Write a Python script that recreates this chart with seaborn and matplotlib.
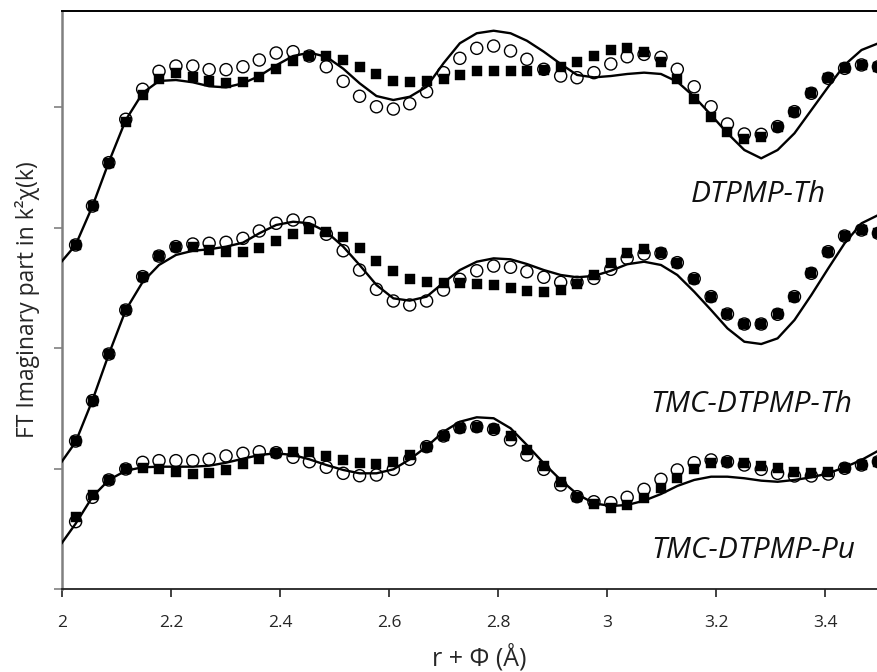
import matplotlib
matplotlib.use("Agg")
import matplotlib.pyplot as plt
import seaborn as sns
import pandas as pd

# r + phi grid of the data points (Angstrom)
r_points = [2.025, 2.056, 2.086, 2.117, 2.148, 2.178, 2.209, 2.240, 2.270, 2.301,
            2.332, 2.362, 2.393, 2.424, 2.454, 2.485, 2.516, 2.546, 2.577, 2.608,
            2.638, 2.669, 2.700, 2.730, 2.761, 2.792, 2.823, 2.853, 2.884, 2.915,
            2.945, 2.976, 3.007, 3.037, 3.068, 3.099, 3.129, 3.160, 3.191, 3.221,
            3.252, 3.283, 3.313, 3.344, 3.375, 3.406, 3.436, 3.467, 3.498]
r_fit = [1.994] + r_points

# DTPMP-Th
th_circles = [2.855, 3.178, 3.538, 3.898, 4.147, 4.296, 4.340, 4.340, 4.310, 4.310,
              4.334, 4.390, 4.448, 4.459, 4.423, 4.334, 4.213, 4.089, 4.002, 3.983,
              4.027, 4.127, 4.285, 4.404, 4.487, 4.506, 4.465, 4.396, 4.313, 4.257,
              4.243, 4.285, 4.357, 4.417, 4.437, 4.412, 4.313, 4.168, 4.002, 3.859,
              3.776, 3.773, 3.837, 3.961, 4.114, 4.238, 4.321, 4.349, 4.334]
th_squares = [2.855, 3.178, 3.538, 3.878, 4.100, 4.232, 4.285, 4.251, 4.218, 4.197,
              4.205, 4.246, 4.318, 4.382, 4.423, 4.423, 4.393, 4.334, 4.274, 4.218,
              4.205, 4.213, 4.235, 4.263, 4.296, 4.301, 4.301, 4.301, 4.307, 4.329,
              4.376, 4.423, 4.473, 4.487, 4.454, 4.376, 4.230, 4.064, 3.915, 3.795,
              3.732, 3.749, 3.837, 3.961, 4.114, 4.238, 4.321, 4.349, 4.334]
th_fit = [2.689, 2.855, 3.178, 3.544, 3.892, 4.116, 4.216, 4.224, 4.205, 4.172, 4.163,
          4.197, 4.257, 4.346, 4.423, 4.451, 4.417, 4.318, 4.197, 4.091, 4.058,
          4.085, 4.168, 4.363, 4.529, 4.612, 4.633, 4.612, 4.550, 4.459, 4.357,
          4.266, 4.246, 4.257, 4.274, 4.285, 4.274, 4.210, 4.085, 3.934, 3.782,
          3.643, 3.574, 3.643, 3.782, 3.975, 4.168, 4.349, 4.473, 4.529]

# TMC-DTPMP-Th
tmc_th_circles = [1.228, 1.563, 1.950, 2.315, 2.592, 2.763, 2.841, 2.863, 2.869, 2.877,
                  2.910, 2.971, 3.035, 3.062, 3.040, 2.944, 2.807, 2.647, 2.487, 2.390,
                  2.357, 2.390, 2.481, 2.570, 2.641, 2.680, 2.670, 2.633, 2.587, 2.545,
                  2.545, 2.578, 2.653, 2.744, 2.780, 2.786, 2.708, 2.575, 2.426, 2.282,
                  2.199, 2.199, 2.280, 2.426, 2.620, 2.799, 2.929, 2.979, 2.952]
tmc_th_squares = [1.228, 1.563, 1.950, 2.315, 2.592, 2.763, 2.841, 2.841, 2.813, 2.794,
                  2.794, 2.827, 2.890, 2.944, 2.985, 2.965, 2.919, 2.827, 2.724, 2.639,
                  2.573, 2.545, 2.537, 2.537, 2.531, 2.523, 2.500, 2.476, 2.465, 2.481,
                  2.531, 2.606, 2.703, 2.786, 2.819, 2.786, 2.708, 2.575, 2.426, 2.282,
                  2.199, 2.199, 2.280, 2.426, 2.620, 2.799, 2.929, 2.979, 2.952]
tmc_th_fit = [1.021, 1.220, 1.568, 1.950, 2.315, 2.548, 2.689, 2.772, 2.807, 2.819, 2.841,
              2.874, 2.952, 3.021, 3.048, 3.035, 2.965, 2.841, 2.689, 2.523, 2.412,
              2.393, 2.426, 2.542, 2.647, 2.716, 2.744, 2.736, 2.697, 2.647, 2.606,
              2.587, 2.598, 2.641, 2.695, 2.716, 2.689, 2.606, 2.467, 2.315, 2.163,
              2.052, 2.033, 2.080, 2.232, 2.440, 2.661, 2.869, 3.035, 3.104]

# TMC-DTPMP-Pu
tmc_pu_circles = [0.559, 0.761, 0.905, 0.996, 1.051, 1.065, 1.065, 1.065, 1.076, 1.104,
                  1.126, 1.139, 1.131, 1.093, 1.056, 1.010, 0.960, 0.940, 0.946, 0.993,
                  1.076, 1.181, 1.270, 1.339, 1.347, 1.325, 1.237, 1.112, 0.993, 0.863,
                  0.766, 0.724, 0.716, 0.761, 0.827, 0.910, 0.988, 1.048, 1.071, 1.056,
                  1.029, 0.993, 0.960, 0.938, 0.938, 0.954, 1.002, 1.029, 1.056]
tmc_pu_squares = [0.600, 0.780, 0.905, 0.996, 1.007, 0.996, 0.973, 0.954, 0.965, 0.988,
                  1.037, 1.079, 1.126, 1.139, 1.139, 1.104, 1.071, 1.048, 1.037, 1.056,
                  1.112, 1.181, 1.270, 1.339, 1.347, 1.325, 1.270, 1.154, 1.021, 0.890,
                  0.766, 0.705, 0.670, 0.697, 0.753, 0.836, 0.919, 0.993, 1.043, 1.056,
                  1.043, 1.021, 1.002, 0.973, 0.965, 0.973, 1.002, 1.029, 1.056]
tmc_pu_fit = [0.346, 0.542, 0.766, 0.905, 0.982, 1.010, 1.015, 1.015, 1.015, 1.023, 1.048,
              1.081, 1.112, 1.126, 1.112, 1.076, 1.029, 0.988, 0.960, 0.960, 0.993,
              1.076, 1.181, 1.305, 1.388, 1.425, 1.417, 1.334, 1.195, 1.043, 0.905,
              0.788, 0.711, 0.689, 0.697, 0.733, 0.788, 0.855, 0.905, 0.932, 0.932,
              0.919, 0.899, 0.890, 0.905, 0.927, 0.960, 1.010, 1.071, 1.148]

sample_labels = ["DTPMP-Th", "TMC-DTPMP-Th", "TMC-DTPMP-Pu"]
x_ticks = [2.0, 2.2, 2.4, 2.6, 2.8, 3.0, 3.2, 3.4]
x_tick_labels = ["2", "2.2", "2.4", "2.6", "2.8", "3", "3.2", "3.4"]
y_ticks = [0, 1, 2, 3, 4]

sns.set_theme(style="white")
plt.rcParams["font.family"] = ["Open Sans", "DejaVu Sans"]

fig = plt.figure(figsize=(8.78, 6.72), dpi=100)
ax = fig.add_axes([62 / 878, 83 / 672, 817.5 / 878, 578 / 672])

circ_sets = [th_circles, tmc_th_circles, tmc_pu_circles]
sq_sets = [th_squares, tmc_th_squares, tmc_pu_squares]
fit_sets = [th_fit, tmc_th_fit, tmc_pu_fit]

for circ, sq, fit in zip(circ_sets, sq_sets, fit_sets):
    df_pts = pd.DataFrame({"r": r_points, "circ": circ, "sq": sq})
    df_fit = pd.DataFrame({"r": r_fit, "fit": fit})
    sns.scatterplot(data=df_pts, x="r", y="circ", ax=ax, marker="o", s=76,
                    color="black", facecolor="none", edgecolor="black",
                    linewidth=1.0, zorder=3, clip_on=False)
    sns.scatterplot(data=df_pts, x="r", y="sq", ax=ax, marker="s", s=58,
                    color="black", edgecolor="black", linewidth=0.3, zorder=4,
                    clip_on=False)
    sns.lineplot(data=df_fit, x="r", y="fit", ax=ax, color="black", lw=1.7,
                 sort=False, estimator=None, zorder=5)
for ln in ax.lines:
    ln.set_solid_joinstyle("round")
    ln.set_solid_capstyle("round")

label_pos = [(3.277, 3.27), (3.264, 1.53), (3.269, 0.32)]
for lab, (lx, ly) in zip(sample_labels, label_pos):
    ax.text(lx, ly, lab, fontsize=21.5, fontstyle="italic", ha="center",
            va="center", color="#111111")

ax.set_xlim(2.0, 3.5)
ax.set_ylim(0, 578 / 120.5)
ax.set_xticks(x_ticks)
ax.set_xticklabels(x_tick_labels)
ax.set_yticks(y_ticks)
ax.set_yticklabels([])
ax.tick_params(axis="x", direction="out", length=6, width=1.2, color="#222222",
               labelsize=12.5, pad=13, bottom=True)
ax.tick_params(axis="y", direction="out", length=6, width=1.2, color="#808080",
               left=True)
ax.spines["top"].set_color("black")
ax.spines["top"].set_linewidth(1.4)
ax.spines["right"].set_visible(False)
ax.spines["left"].set_color("#808080")
ax.spines["left"].set_linewidth(1.8)
ax.spines["bottom"].set_color("#222222")
ax.spines["bottom"].set_linewidth(1.3)

ax.set_xlabel("r + Φ (Å)", fontsize=18, labelpad=8)
ax.xaxis.set_label_coords(0.511, -0.095)
ax.set_ylabel("FT Imaginary part in k²χ(k)", fontsize=16.5, labelpad=6)
ax.grid(False)

fig.savefig("out.png", dpi=100)
